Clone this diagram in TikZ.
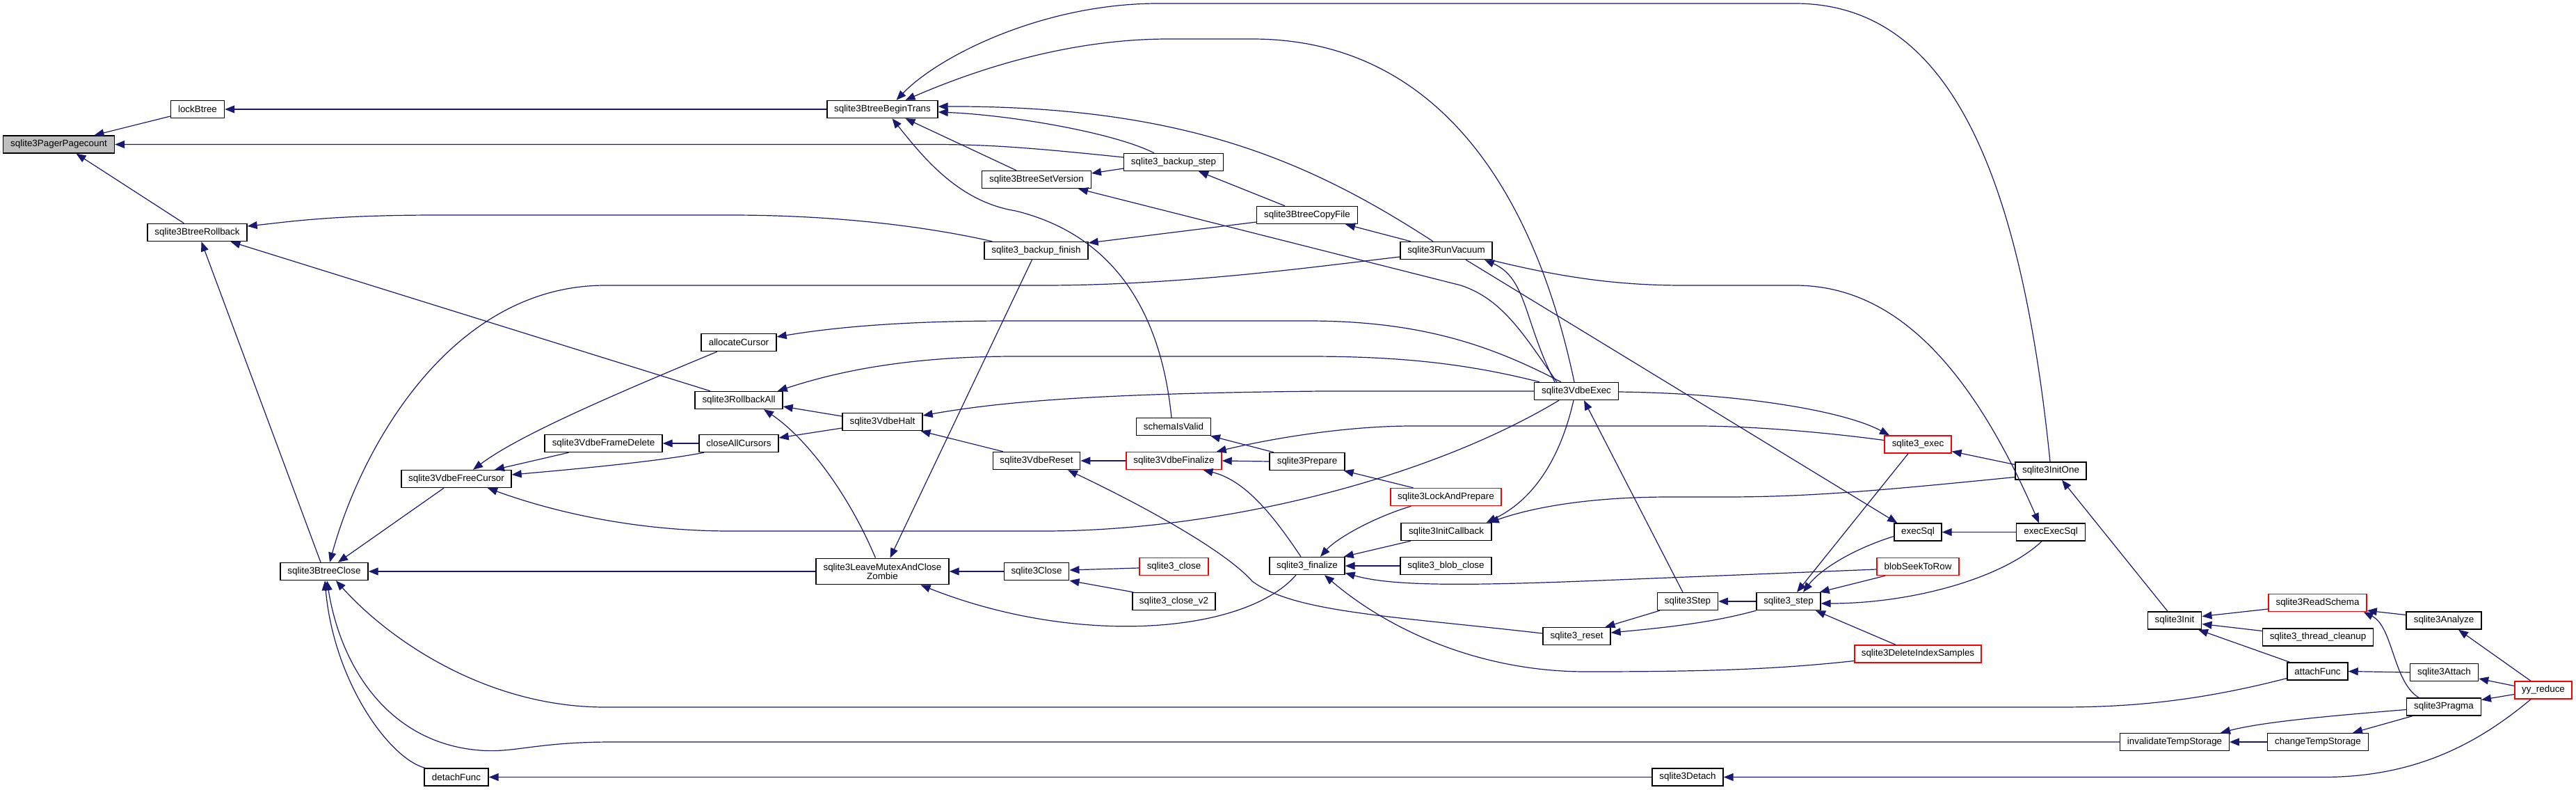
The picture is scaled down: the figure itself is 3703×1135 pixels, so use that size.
\documentclass[tikz,border=0pt]{standalone}
\usepackage{fontspec}
\setmainfont{Liberation Sans}
\usetikzlibrary{arrows.meta}
\definecolor{edgec}{HTML}{191970}
\definecolor{ppgray}{HTML}{BFBFBF}
\begin{document}
\begin{tikzpicture}[x=1pt,y=-1pt,
  nd/.style={draw=black, line width=1.4pt, fill=white, minimum height=25pt, inner sep=0pt, font=\fontsize{13.4}{12.7}\selectfont},
  rednd/.style={nd, draw=red},
  edg/.style={draw=edgec, line width=1.2pt, -{Triangle[length=14pt,width=11pt]}}]
\fill[white] (0,0) rectangle (3703,1135);
\useasboundingbox (0,0) rectangle (3703,1135);
% nodes
\node[nd, fill=ppgray, minimum width=160pt] (pp) at (84.5,207.5) {sqlite3PagerPagecount};
\node[nd, minimum width=77pt] (lb) at (284,157) {lockBtree};
\node[nd, minimum width=143pt] (br) at (283.5,334) {sqlite3BtreeRollback};
\node[nd, minimum width=126pt] (bc) at (466,821) {sqlite3BtreeClose};
\node[nd, minimum width=158pt] (fc) at (656,688) {sqlite3VdbeFreeCursor};
\node[nd, minimum width=92pt] (dfn) at (656,1116.5) {detachFunc};
\node[nd, minimum width=169pt] (fd) at (867.5,637) {sqlite3VdbeFrameDelete};
\node[nd, minimum width=108pt] (ac) at (1062,492) {allocateCursor};
\node[nd, minimum width=126pt] (ra) at (1062,575) {sqlite3RollbackAll};
\node[nd, minimum width=114pt] (cac) at (1062,637) {closeAllCursors};
\node[nd, minimum width=159pt] (bt) at (1268.5,157) {sqlite3BtreeBeginTrans};
\node[nd, minimum width=115pt] (vh) at (1268.5,606) {sqlite3VdbeHalt};
\node[nd, minimum width=191pt, minimum height=37.5pt, align=center] (lm) at (1268.5,821) {sqlite3LeaveMutexAndClose\\Zombie};
\node[nd, minimum width=156.5pt] (sv) at (1490,258) {sqlite3BtreeSetVersion};
\node[nd, minimum width=149pt] (bf) at (1489.5,360) {sqlite3\_backup\_finish};
\node[nd, minimum width=125.5pt] (vr) at (1490,662) {sqlite3VdbeReset};
\node[nd, minimum width=93.5pt] (cl) at (1490,821) {sqlite3Close};
\node[nd, minimum width=142.5pt] (bs) at (1687,233) {sqlite3\_backup\_step};
\node[nd, minimum width=107pt] (siv) at (1687,613) {schemaIsValid};
\node[rednd, minimum width=137pt] (vf) at (1687.5,662) {sqlite3VdbeFinalize};
\node[rednd, minimum width=99pt] (scl) at (1687.5,814) {sqlite3\_close};
\node[nd, minimum width=119pt] (scv) at (1687.5,864) {sqlite3\_close\_v2};
\node[nd, minimum width=144.5pt] (cf) at (1879,309) {sqlite3BtreeCopyFile};
\node[nd, minimum width=108pt] (pr) at (1879,663) {sqlite3Prepare};
\node[nd, minimum width=108pt] (fin) at (1879,813) {sqlite3\_finalize};
\node[nd, minimum width=132pt] (rv) at (2079,360) {sqlite3RunVacuum};
\node[rednd, minimum width=159pt] (lap) at (2078.5,714) {sqlite3LockAndPrepare};
\node[nd, minimum width=130pt] (ic) at (2079,764) {sqlite3InitCallback};
\node[nd, minimum width=131pt] (blc) at (2078.5,813) {sqlite3\_blob\_close};
\node[nd, minimum width=120.5pt] (ve) at (2266,562) {sqlite3VdbeExec};
\node[nd, minimum width=97pt] (rst) at (2266.5,914) {sqlite3\_reset};
\node[nd, minimum width=87pt] (stp) at (2426,864) {sqlite3Step};
\node[nd, minimum width=102pt] (det) at (2426,1116.5) {sqlite3Detach};
\node[nd, minimum width=92pt] (st) at (2571,864) {sqlite3\_step};
\node[rednd, minimum width=96pt] (ex) at (2757,638.5) {sqlite3\_exec};
\node[nd, minimum width=68pt] (es) at (2757,764.5) {execSql};
\node[rednd, minimum width=118pt] (bstr) at (2757,814) {blobSeekToRow};
\node[rednd, minimum width=182pt] (dis) at (2757,939.5) {sqlite3DeleteIndexSamples};
\node[nd, minimum width=102pt] (io) at (2948,676.5) {sqlite3InitOne};
\node[nd, minimum width=98.5pt] (ees) at (2948,764.5) {execExecSql};
\node[nd, minimum width=77.5pt] (ini) at (3126,891.5) {sqlite3Init};
\node[nd, minimum width=156.5pt] (itt) at (3126,1066) {invalidateTempStorage};
\node[rednd, minimum width=141pt] (rs) at (3331.5,866) {sqlite3ReadSchema};
\node[nd, minimum width=159pt] (tc) at (3332,915.5) {sqlite3\_thread\_cleanup};
\node[nd, minimum width=87pt] (af) at (3331.5,964.5) {attachFunc};
\node[nd, minimum width=144.5pt] (cts) at (3332,1066) {changeTempStorage};
\node[nd, minimum width=108pt] (an) at (3513,891.5) {sqlite3Analyze};
\node[nd, minimum width=98pt] (att) at (3513.5,966) {sqlite3Attach};
\node[nd, minimum width=106.5pt] (pg) at (3513,1015.5) {sqlite3Pragma};
\node[rednd, minimum width=82pt] (yy) at (3656,991.5) {yy\_reduce};
% edges
\draw[edg] ([yshift=-10pt]lb.west) -- ([xshift=51pt]pp.north);
\draw[edg] ([yshift=7pt]bs.west) .. controls (1480,212) and (1420,207.5) .. (1340,207.5) -- (pp.east);
\draw[edg] ([xshift=-19pt]br.north) -- ([xshift=25pt]pp.south);
\draw[edg] (bt.west) -- (lb.east);
\draw[edg] ([xshift=12pt]bf.north west) .. controls (1330,325) and (1200,309) .. (1050,309) -- (630,309) .. controls (480,309) and (420,318) .. ([yshift=9pt]br.east);
\draw[edg] ([xshift=-41pt]ra.north) -- ([xshift=48pt]br.south);
\draw[edg] ([xshift=-5pt]bc.north) -- ([xshift=6pt]br.south);
\draw[edg] ([yshift=-9pt]rv.west) .. controls (1900,382) and (1700,410) .. (1500,410) -- (870,410) .. controls (650,410) and (520,640) .. ([xshift=8pt]bc.north);
\draw[edg] ([xshift=-18pt]fc.south) -- ([xshift=20pt]bc.north);
\draw[edg] (lm.west) -- (bc.east);
\draw[edg] ([yshift=-10pt]af.west) .. controls (3150,1010) and (3050,1016) .. (2960,1016) -- (870,1016) .. controls (700,1016) and (560,920) .. ([xshift=17pt]bc.south);
\draw[edg] (itt.west) -- (880,1066) .. controls (770,1066) and (740,1082) .. (690,1078) .. controls (560,1068) and (490,960) .. ([xshift=4pt]bc.south);
\draw[edg] ([xshift=-45pt]dfn.north) .. controls (560,1090) and (480,980) .. ([xshift=1pt]bc.south);
\draw[edg] (det.west) -- (dfn.east);
\draw[edg] ([xshift=-18pt]yy.south) .. controls (3560,1070) and (3470,1116.5) .. (3340,1116.5) -- (det.east);
\draw[edg] ([xshift=-31pt]ac.south) .. controls (850,580) and (740,630) .. ([xshift=24pt]fc.north);
\draw[edg] ([xshift=-50pt]fd.south) -- ([xshift=55pt]fc.north);
\draw[edg] ([xshift=-50pt]cac.south) .. controls (950,662) and (850,672) .. ([yshift=6pt]fc.east);
\draw[edg] ([xshift=-25pt]ve.south) .. controls (2050,690) and (1750,763) .. (1500,763) -- (1050,763) .. controls (900,763) and (780,730) .. ([xshift=45pt]fc.south);
\draw[edg] (cac.west) -- (fd.east);
\draw[edg] ([yshift=-9pt]vh.west) -- ([yshift=8pt]cac.east);
\draw[edg] ([yshift=8pt]vh.west) -- ([yshift=-9pt]ra.east);
\draw[edg] ([xshift=-10pt]lm.north) .. controls (1220,710) and (1160,630) .. ([xshift=36pt]ra.south);
\draw[edg] ([xshift=-53pt]ve.north) .. controls (2100,520) and (2000,512) .. (1880,512) -- (1460,512) .. controls (1300,512) and (1200,535) .. ([xshift=-8pt]ra.north east);
\draw[edg] ([xshift=-22pt]ve.north) .. controls (2150,500) and (2050,461) .. (1880,461) -- (1450,461) .. controls (1300,461) and (1200,470) .. ([yshift=8pt]ac.east);
\draw[edg] (ve.west) -- (1900,562) .. controls (1600,565) and (1450,575) .. ([yshift=9pt]vh.east);
\draw[edg] ([xshift=-48pt]vr.north) -- ([xshift=55pt]vh.south);
\draw[edg] (vf.west) -- (vr.east);
\draw[edg] ([yshift=4pt]rst.west) .. controls (2000,885) and (1860,880) .. (1800,835) .. controls (1760,790) and (1640,725) .. ([xshift=45pt]vr.south);
\draw[edg] (pr.west) -- (vf.east);
\draw[edg] ([yshift=6pt]ex.west) .. controls (2600,618) and (2500,612) .. (2440,612) -- (2030,612) .. controls (1950,612) and (1850,625) .. ([xshift=-8pt]vf.north east);
\draw[edg] ([xshift=-9pt]fin.north) .. controls (1830,740) and (1790,690) .. ([xshift=42pt]vf.south);
\draw[edg] ([xshift=-48pt]pr.north) -- ([xshift=53pt]siv.south);
\draw[edg] ([xshift=-3pt]siv.north) .. controls (1670,460) and (1610,340) .. (1460,303) .. controls (1380,290) and (1330,230) .. ([xshift=14pt]bt.south);
\draw[edg] ([xshift=-29pt]sv.north) -- ([xshift=33pt]bt.south);
\draw[edg] ([xshift=-28pt]bs.north) .. controls (1600,190) and (1450,165) .. ([yshift=-4pt]bt.east);
\draw[edg] ([xshift=-19pt]rv.north) .. controls (1880,230) and (1700,152) .. ([yshift=4pt]bt.east);
\draw[edg] ([xshift=-3pt]ve.north) .. controls (2200,250) and (2050,56) .. (1800,56) -- (1680,56) .. controls (1520,56) and (1380,110) .. ([xshift=33pt]bt.north);
\draw[edg] ([xshift=-1pt]io.north) .. controls (2900,200) and (2780,5) .. (2580,5) -- (1665,5) .. controls (1500,5) and (1350,80) .. ([xshift=20pt]bt.north);
\draw[edg] ([yshift=-9pt]bs.west) -- ([yshift=9pt]sv.east);
\draw[edg] ([xshift=-28pt]ve.north) .. controls (2190,480) and (2160,430) .. (2100,410) -- ([xshift=60pt]sv.south);
\draw[edg] ([xshift=-32pt]cf.north) -- ([xshift=36pt]bs.south);
\draw[edg] ([yshift=-10pt]cf.west) -- ([yshift=11pt]bf.east);
\draw[edg] ([xshift=-6pt]bf.south) -- ([xshift=11pt]lm.north);
\draw[edg] ([xshift=-51pt]rv.north) -- ([xshift=55pt]cf.south);
\draw[edg] ([xshift=-31pt]ve.north) .. controls (2190,460) and (2195,400) .. ([xshift=55pt]rv.south);
\draw[edg] ([xshift=-4pt]rv.south east) .. controls (2250,400) and (2330,410) .. (2420,410) -- (2580,410) .. controls (2720,410) and (2830,520) .. ([xshift=-17pt]ees.north);
\draw[edg] ([xshift=28pt]rv.south) -- ([xshift=5pt]es.north west);
\draw[edg] (ees.west) -- (es.east);
\draw[edg] ([yshift=-1pt]ve.east) .. controls (2500,565) and (2650,590) .. ([xshift=-41pt]ex.north);
\draw[edg] ([yshift=9pt]io.west) -- ([yshift=-10pt]ex.east);
\draw[edg] ([yshift=-9pt]io.west) .. controls (2700,705) and (2600,714) .. (2480,714) -- (2400,714) .. controls (2280,714) and (2200,730) .. ([xshift=-4pt]ic.north east);
\draw[edg] ([xshift=-4pt]ve.south) .. controls (2245,650) and (2210,715) .. ([xshift=-8pt]ic.north east);
\draw[edg] ([xshift=-51pt]ic.south) -- ([xshift=-2pt]fin.north east);
\draw[edg] ([xshift=-47pt]lap.north) -- ([xshift=-2pt]pr.south east);
\draw[edg] ([xshift=-50pt]lap.south) .. controls (1970,745) and (1920,775) .. ([xshift=19pt]fin.north);
\draw[edg] (blc.west) -- (fin.east);
\draw[edg] ([yshift=-4pt]bstr.west) -- (2300,834) .. controls (2100,842) and (2000,842) .. ([yshift=3pt]fin.south east);
\draw[edg] ([yshift=-10pt]dis.west) .. controls (2550,962) and (2450,965) .. (2280,965) .. controls (2120,965) and (1990,900) .. ([xshift=25pt]fin.south);
\draw[edg] ([xshift=-16pt]fin.south) .. controls (1790,910) and (1550,930) .. ([xshift=55pt]lm.south);
\draw[edg] (cl.west) -- (lm.east);
\draw[edg] ([yshift=-2pt]scl.west) -- ([yshift=2pt]cl.east);
\draw[edg] ([xshift=2pt]scv.north west) -- (cl.south east);
\draw[edg] ([xshift=-7pt]stp.north) -- ([xshift=11pt]ve.south);
\draw[edg] ([xshift=-14pt]ex.south) -- ([xshift=12pt]st.north);
\draw[edg] ([yshift=-6pt]es.west) .. controls (2660,790) and (2615,820) .. ([xshift=21pt]st.north);
\draw[edg] ([xshift=-47pt]bstr.south) -- ([xshift=-2pt]st.north east);
\draw[edg] ([xshift=-13pt]ees.south) .. controls (2880,830) and (2750,867) .. ([yshift=-3pt]st.east);
\draw[edg] ([xshift=-32pt]dis.north) -- ([xshift=39pt]st.south);
\draw[edg] (st.west) -- (stp.east);
\draw[edg] ([xshift=-40pt]stp.south) -- ([xshift=41pt]rst.north);
\draw[edg] (st.south west) .. controls (2460,895) and (2390,902) .. ([yshift=5pt]rst.east);
\draw[edg] ([xshift=-10pt]ini.north) -- ([xshift=16pt]io.south);
\draw[edg] ([yshift=-9pt]rs.west) -- ([yshift=6pt]ini.east);
\draw[edg] ([yshift=9pt]tc.west) -- ([yshift=-5pt]ini.east);
\draw[edg] ([xshift=-40pt]af.north) -- ([xshift=34pt]ini.south);
\draw[edg] ([yshift=8pt]an.west) -- ([yshift=2pt]rs.south east);
\draw[edg] ([xshift=-36pt]pg.north) .. controls (3440,980) and (3440,900) .. ([xshift=66pt]rs.south);
\draw[edg] (att.west) -- (af.east);
\draw[edg] ([xshift=-18pt]yy.north) -- ([xshift=21pt]an.south);
\draw[edg] ([yshift=6pt]yy.west) -- ([yshift=-9pt]att.east);
\draw[edg] ([yshift=-6pt]yy.west) -- ([yshift=10pt]pg.east);
\draw[edg] ([yshift=-4pt]pg.west) .. controls (3330,1030) and (3250,1038) .. ([xshift=66pt]itt.north);
\draw[edg] (cts.west) -- (itt.east);
\draw[edg] ([xshift=-45pt]pg.south) -- ([xshift=50pt]cts.north);
\end{tikzpicture}
\end{document}
